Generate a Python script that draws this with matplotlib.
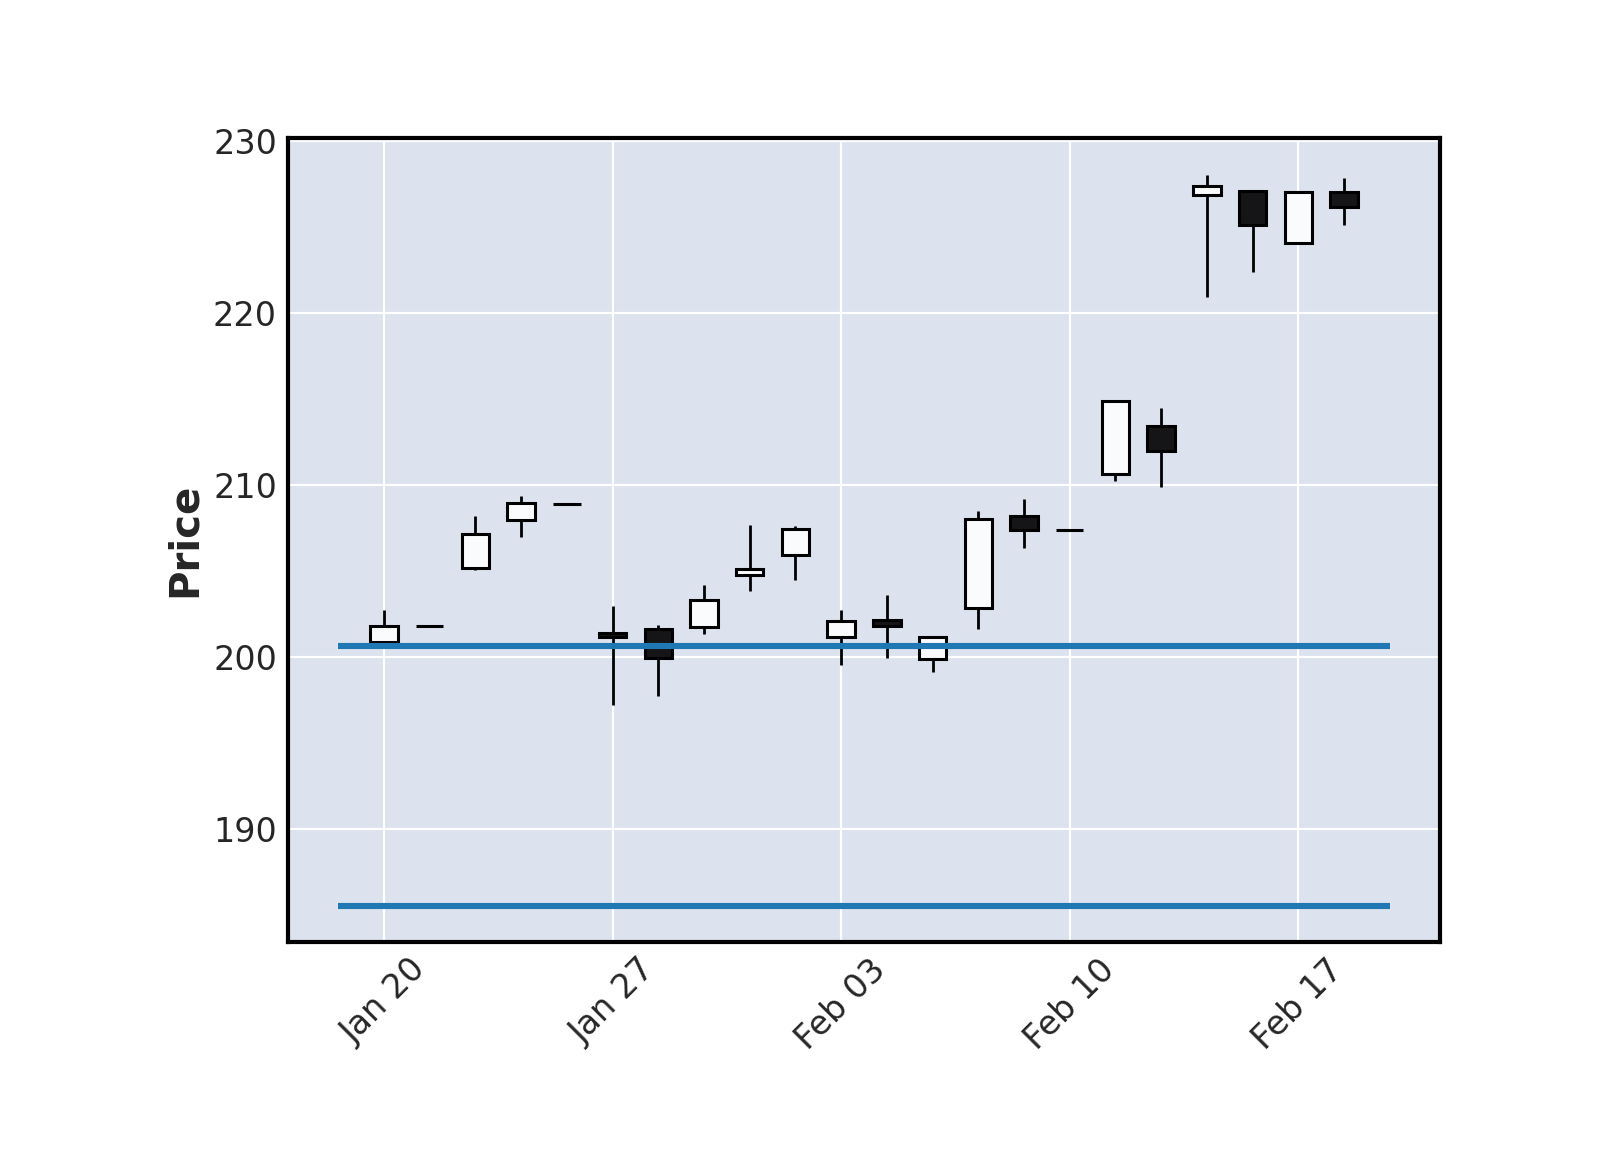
import datetime as dt
import matplotlib
matplotlib.use("Agg")
import matplotlib.pyplot as plt

# trading days (weekends skipped, candles drawn at integer positions)
dates = ['2025-01-20', '2025-01-21', '2025-01-22', '2025-01-23', '2025-01-24',
         '2025-01-27', '2025-01-28', '2025-01-29', '2025-01-30', '2025-01-31',
         '2025-02-03', '2025-02-04', '2025-02-05', '2025-02-06', '2025-02-07',
         '2025-02-10', '2025-02-11', '2025-02-12', '2025-02-13', '2025-02-14',
         '2025-02-17', '2025-02-18']

opens = [200.90, 201.80, 205.18, 207.96, 208.93, 201.40, 201.61, 201.75, 204.76, 205.92, 201.17,
         202.14, 199.92, 202.85, 208.19, 207.42, 210.68, 213.46, 226.91, 227.13, 224.10, 227.03]
highs = [202.76, 201.80, 208.23, 209.36, 208.93, 202.97, 201.88, 204.21, 207.71, 207.65, 202.72,
         203.63, 201.20, 208.49, 209.22, 207.42, 214.89, 214.47, 228.04, 227.13, 227.03, 227.86]
lows = [200.82, 201.80, 205.05, 207.01, 208.93, 197.22, 197.75, 201.32, 203.86, 204.50, 199.55,
        199.96, 199.15, 201.65, 206.37, 207.42, 210.23, 209.90, 220.93, 222.43, 224.10, 225.13]
closes = [201.81, 201.80, 207.15, 208.95, 208.93, 201.17, 199.96, 203.30, 205.13, 207.44, 202.08,
          201.81, 201.20, 208.02, 207.38, 207.42, 214.89, 211.98, 227.42, 225.15, 227.03, 226.16]

hline_levels = [200.63, 185.52]

up_color = '#fafbfd'
down_color = '#151517'
bg_color = '#dce2ee'

fig = plt.figure(figsize=(8, 5.75), dpi=200)
ax = fig.add_axes([0.18, 0.181, 0.72, 0.699])
ax.set_facecolor(bg_color)
ax.grid(True, color='white', linewidth=0.8)
ax.set_axisbelow(True)

x = list(range(len(dates)))

# wicks first, bodies on top
ax.vlines(x, lows, highs, color='black', linewidth=1.0, zorder=2)
for i in x:
    o, c = opens[i], closes[i]
    fill = up_color if c >= o else down_color
    ax.bar(i, c - o, bottom=o, width=0.6, color=fill, edgecolor='black',
           linewidth=1.1, zorder=3)

for lvl in hline_levels:
    ax.hlines(lvl, -1, len(dates), color='#1f77b4', linewidth=2.2, zorder=4)

ax.set_xlim(-2.1, 23.1)
ax.set_ylim(183.44, 230.2)
ax.set_yticks([190, 200, 210, 220, 230])

tick_pos = [0, 5, 10, 15, 20]
tick_labels = [dt.datetime.strptime(dates[i], '%Y-%m-%d').strftime('%b %d') for i in tick_pos]
ax.set_xticks(tick_pos)
ax.set_xticklabels(tick_labels, rotation=45, ha='center')

ax.tick_params(length=0, labelsize=12, labelcolor='#262626', pad=4)
ax.set_ylabel('Price', fontsize=14.5, fontweight='bold', color='#262626', labelpad=3)

for s in ax.spines.values():
    s.set_linewidth(1.5)
    s.set_color('black')

fig.savefig('out.png', dpi=200, facecolor='white')
